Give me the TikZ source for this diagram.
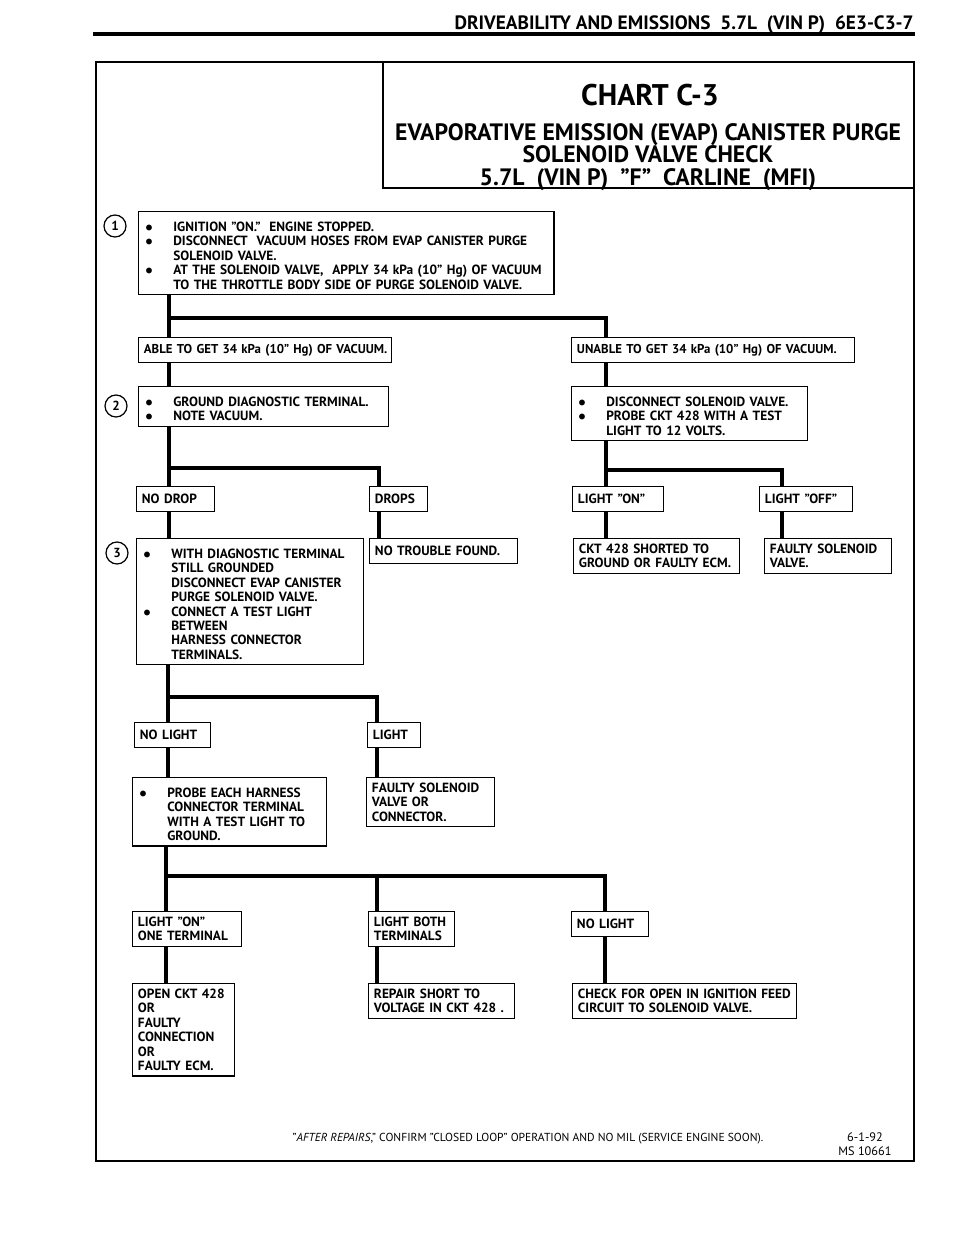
\documentclass[tikz,border=0pt]{standalone}
\usepackage{fontspec}
\setmainfont{PT Sans}
\usetikzlibrary{positioning}

% bullet line with hanging indent (use \newline inside, not \\)
\newcommand\bitem{\par\hangindent=2.2em\hangafter=1\noindent\makebox[2.2em][l]{\hspace{0.1em}$\bullet$}}

\tikzset{
  box/.style={draw, line width=0.8pt, anchor=north west, align=left, inner xsep=3pt, inner ysep=3pt,
    font=\bfseries\fontsize{7.6}{8.2}\selectfont},
  onebox/.style={box, minimum height=0.5cm},
  link/.style={line width=1.8pt},
  num/.style={draw, circle, line width=0.7pt, inner sep=0pt, minimum size=0.44cm, font=\bfseries\fontsize{7.5}{7.5}\selectfont},
}

\begin{document}
\begin{tikzpicture}[x=0.02cm, y=-0.02cm]
    \useasboundingbox (0,0) rectangle (960,1250);

    % page head and frame
    \node[anchor=base east, inner sep=0pt, font=\bfseries\fontsize{11}{12}\selectfont] (head) at (914,30) {DRIVEABILITY AND EMISSIONS\ \ 5.7L\ \ (VIN P)\ \ 6E3-C3-7};
    \draw[line width=1.8pt] (93,34) -- (915,34);
    \draw[line width=1.3pt] (96,62) rectangle (914,1161);
    \draw[line width=1pt] (383,62) |- (914,188);

    % chart title
    \node[font=\bfseries\fontsize{17}{20}\selectfont] (chart) at (650,95) {CHART C-3};
    \node[align=center, font=\bfseries\fontsize{13.5}{13}\selectfont] (title) at (648,157)
        {EVAPORATIVE EMISSION (EVAP) CANISTER PURGE\\SOLENOID VALVE CHECK\\5.7L\ \ (VIN P)\ \ ''F''\ \ CARLINE\ \ (MFI)};

    % step 1
    \node[box, text width=8.1cm] (ign) at (138,211)
        {\bitem IGNITION ''ON.''\ \ ENGINE STOPPED.
         \bitem DISCONNECT\ \ VACUUM HOSES FROM EVAP CANISTER PURGE\newline SOLENOID VALVE.
         \bitem AT THE SOLENOID VALVE,\ \ APPLY 34 kPa (10'' Hg) OF VACUUM\newline TO THE THROTTLE BODY SIDE OF PURGE SOLENOID VALVE.\par};
    \node[num] (c1) at (115,226) {1};

    \node[onebox, text width=4.85cm, font=\bfseries\fontsize{7.3}{8.2}\selectfont] (able) at (138,337)
        {\mbox{ABLE TO GET 34 kPa (10'' Hg) OF VACUUM.}};
    \node[onebox, text width=5.45cm, font=\bfseries\fontsize{7.3}{8.2}\selectfont] (unable) at (571,337)
        {\mbox{UNABLE TO GET 34 kPa (10'' Hg) OF VACUUM.}};

    % step 2
    \node[box, text width=4.78cm] (gnd) at (138,386)
        {\bitem GROUND DIAGNOSTIC TERMINAL.
         \bitem NOTE VACUUM.\par};
    \node[num] (c2) at (116,406) {2};
    \node[box, text width=4.5cm] (disc) at (571,386)
        {\bitem DISCONNECT SOLENOID VALVE.
         \bitem PROBE CKT 428 WITH A TEST\newline LIGHT TO 12 VOLTS.\par};

    \node[onebox, text width=1.34cm] (nodrop) at (136,486) {NO DROP};
    \node[onebox, text width=0.95cm] (drops) at (369,486) {DROPS};
    \node[onebox, text width=1.6cm] (lon) at (572,486) {LIGHT ''ON''};
    \node[onebox, text width=1.64cm] (loff) at (759,486) {LIGHT ''OFF''};

    % step 3
    \node[box, text width=4.32cm] (conn) at (136,538)
        {\bitem WITH DIAGNOSTIC TERMINAL\newline STILL GROUNDED\newline DISCONNECT EVAP CANISTER\newline PURGE SOLENOID VALVE.
         \bitem CONNECT A TEST LIGHT\newline BETWEEN\newline HARNESS CONNECTOR\newline TERMINALS.\par};
    \node[num] (c3) at (117,553) {3};
    \node[onebox, text width=2.74cm] (ntf) at (369,538) {NO TROUBLE FOUND.};
    \node[box, text width=3.1cm] (short) at (573,538) {CKT 428 SHORTED TO\\GROUND OR FAULTY ECM.};
    \node[box, text width=2.32cm] (fsv) at (764,538) {FAULTY SOLENOID\\VALVE.};

    \node[onebox, text width=1.3cm] (nolight) at (134,722) {NO LIGHT};
    \node[onebox, text width=0.84cm] (light) at (367,722) {LIGHT};

    \node[box, text width=3.66cm] (probe) at (132,777)
        {\bitem PROBE EACH HARNESS\newline CONNECTOR TERMINAL\newline WITH A TEST LIGHT TO\newline GROUND.\par};
    \node[box, text width=2.34cm] (fsvc) at (366,777) {FAULTY SOLENOID\\VALVE OR\\CONNECTOR.};

    \node[box, text width=1.96cm] (lone) at (132,911) {LIGHT ''ON''\\ONE TERMINAL};
    \node[box, text width=1.5cm] (lboth) at (368,911) {LIGHT BOTH\\TERMINALS};
    \node[onebox, text width=1.32cm] (nolight2) at (571,911) {NO LIGHT};

    \node[box, text width=1.82cm] (open) at (132,983) {OPEN CKT 428\\OR\\FAULTY\\CONNECTION\\OR\\FAULTY ECM.};
    \node[box, text width=2.7cm] (repair) at (368,983) {REPAIR SHORT TO\\VOLTAGE IN CKT 428 .};
    \node[box, text width=4.26cm] (feed) at (572,983) {CHECK FOR OPEN IN IGNITION FEED\\CIRCUIT TO SOLENOID VALVE.};

    % junctions
    \coordinate (j1) at (169,318);
    \coordinate (j1r) at (606,318);
    \coordinate (j2) at (169,468);
    \coordinate (j2r) at (379,468);
    \coordinate (j3) at (606,470);
    \coordinate (j3r) at (782,470);
    \coordinate (j4) at (168,697);
    \coordinate (j4r) at (377,697);
    \coordinate (j5) at (166,876);
    \coordinate (j5m) at (377,876);
    \coordinate (j5r) at (605,876);

    % connectors
    \draw[link] (ign.south -| j1) -- (able.north -| j1);
    \draw[link] (j1) -- (j1r) -- (unable.north -| j1r);
    \draw[link] (able.south -| j1) -- (gnd.north -| j1);
    \draw[link] (unable.south -| j3) -- (disc.north -| j3);
    \draw[link] (gnd.south -| j2) -- (nodrop.north -| j2);
    \draw[link] (j2) -- (j2r) -- (drops.north -| j2r);
    \draw[link] (disc.south -| j3) -- (lon.north -| j3);
    \draw[link] (j3) -- (j3r) -- (loff.north -| j3r);
    \draw[link] (nodrop.south -| j2) -- (conn.north -| j2);
    \draw[link] (drops.south -| j2r) -- (ntf.north -| j2r);
    \draw[link] (lon.south -| j3) -- (short.north -| j3);
    \draw[link] (loff.south -| j3r) -- (fsv.north -| j3r);
    \draw[link] (conn.south -| j4) -- (nolight.north -| j4);
    \draw[link] (j4) -- (j4r) -- (light.north -| j4r);
    \draw[link] (nolight.south -| j4) -- (probe.north -| j4);
    \draw[link] (light.south -| j4r) -- (fsvc.north -| j4r);
    \draw[link] (probe.south -| j5) -- (lone.north -| j5);
    \draw[link] (j5) -- (j5r) -- (nolight2.north -| j5r);
    \draw[link] (j5m) -- (lboth.north -| j5m);
    \draw[link] (lone.south -| j5) -- (open.north -| j5);
    \draw[link] (lboth.south -| j5m) -- (repair.north -| j5m);
    \draw[link] (nolight2.south -| j5r) -- (feed.north -| j5r);

    % footer
    \node[font=\fontsize{6.6}{7}\selectfont] (after) at (528,1139)
        {''\textit{AFTER REPAIRS},'' CONFIRM ''CLOSED LOOP'' OPERATION AND NO MIL (SERVICE ENGINE SOON).};
    \node[align=center, font=\fontsize{7}{7.8}\selectfont] (date) at (865,1144) {6-1-92\\MS 10661};
\end{tikzpicture}
\end{document}
